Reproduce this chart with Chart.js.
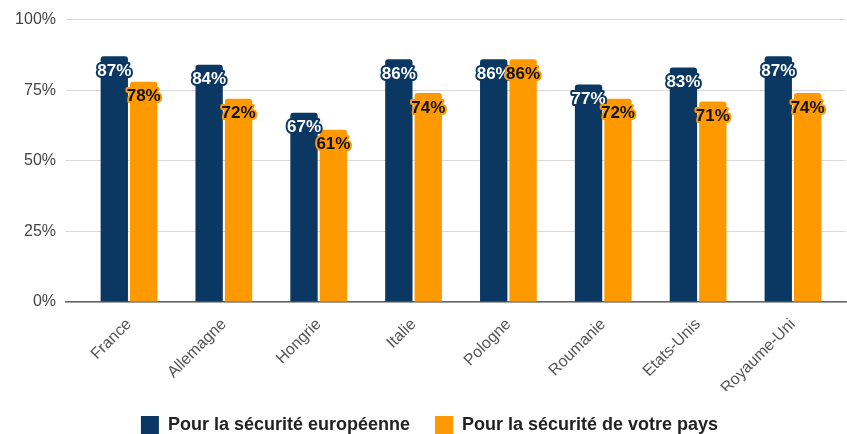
<!DOCTYPE html>
<html>
<head>
<meta charset="utf-8">
<script src="https://cdn.jsdelivr.net/npm/chart.js@4"></script>
<style>
  html, body { margin: 0; padding: 0; background: #fff; }
  #wrap { width: 847px; height: 434px; }
</style>
</head>
<body>
<div id="wrap"><canvas id="myChart" width="847" height="434"></canvas></div>
<script>
const pays = ["France", "Allemagne", "Hongrie", "Italie", "Pologne", "Roumanie", "Etats-Unis", "Royaume-Uni"];
const secuEurope = [87, 84, 67, 86, 86, 77, 83, 87];
const secuPays = [78, 72, 61, 74, 86, 72, 71, 74];
const yTicks = [0, 25, 50, 75, 100];

const navy = "#0b3862";
const orange = "#ff9900";
const police = "'Liberation Sans', Arial, sans-serif";

// étiquettes dans le haut des barres
const etiquettes = {
    id: "etiquettes",
    afterDatasetsDraw(chart) {
        const ctx = chart.ctx;
        ctx.save();
        ctx.font = "bold 17px " + police;
        ctx.textAlign = "center";
        ctx.textBaseline = "middle";
        ctx.lineJoin = "round";
        chart.data.datasets.forEach((ds, i) => {
            const meta = chart.getDatasetMeta(i);
            meta.data.forEach((bar, j) => {
                const txt = ds.data[j].y + "%";
                const y = bar.y + 15;
                ctx.lineWidth = 4;
                ctx.strokeStyle = ds.backgroundColor;
                ctx.strokeText(txt, bar.x, y);
                ctx.fillStyle = i === 0 ? "#ffffff" : "#111111";
                ctx.fillText(txt, bar.x, y);
            });
        });
        ctx.restore();
    }
};

new Chart(document.getElementById("myChart"), {
    type: "bar",
    data: {
        datasets: [
            {
                label: "Pour la sécurité européenne",
                backgroundColor: navy,
                borderWidth: 0,
                borderRadius: 3,
                data: secuEurope.map((v, i) => ({ x: i, y: v }))
            }, {
                label: "Pour la sécurité de votre pays",
                backgroundColor: orange,
                borderWidth: 0,
                borderRadius: 3,
                data: secuPays.map((v, i) => ({ x: i, y: v }))
            }]
    },
    options: {
        responsive: false,
        animation: false,
        categoryPercentage: 0.62,
        barPercentage: 0.93,
        layout: { padding: { left: 13, right: 1, top: 17, bottom: -10 } },
        scales: {
            x: {
                type: "linear",
                offset: false,
                min: -0.664,
                max: 7.559,
                grid: { display: false },
                border: { display: true, color: "#666", width: 1.5 },
                afterFit: (s) => { s.height = 89; },
                ticks: {
                    stepSize: 1,
                    includeBounds: false,
                    autoSkip: false,
                    minRotation: 45,
                    maxRotation: 45,
                    padding: 5,
                    color: "#555",
                    font: { family: police, size: 16 },
                    callback: (v) => pays[v] ?? null
                }
            },
            y: {
                min: 0,
                max: 100,
                afterFit: (s) => { s.width = 53; },
                afterBuildTicks: (s) => { s.ticks = yTicks.map(v => ({ value: v })); },
                grid: { color: "#d9d9d9", drawTicks: false },
                border: { display: false },
                ticks: {
                    padding: 10,
                    color: "#444",
                    font: { family: police, size: 16 },
                    callback: (v) => v + "%"
                }
            }
        },
        plugins: {
            tooltip: { enabled: false },
            legend: {
                position: "bottom",
                labels: {
                    boxWidth: 18,
                    boxHeight: 18,
                    padding: 25,
                    color: "#222",
                    font: { family: police, size: 18, weight: "bold" }
                }
            }
        }
    },
    plugins: [etiquettes]
});
</script>
</body>
</html>
